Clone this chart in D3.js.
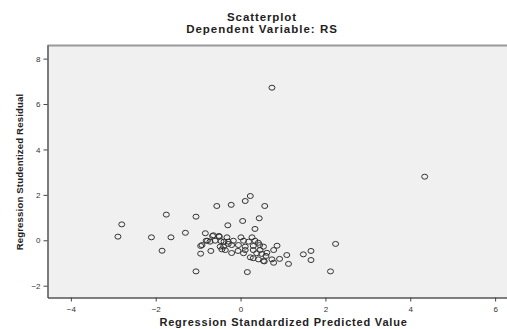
<!DOCTYPE html>
<html lang="en">
    <head>
        <meta charset="UTF-8" />
        <title>Scatterplot</title>
        <script src="https://d3js.org/d3.v7.min.js"></script>
        <style>
            body {
                margin: 0;
                background: #fff;
            }
            svg {
                display: block;
                font-family: "Liberation Sans", Arial, sans-serif;
            }
        </style>
    </head>
    <body>
        <div class="canvas"></div>
        <script>
            // predicted (standardized) vs residual (studentized)
            const predicted = [
                -2.89, -2.8, -2.1, -1.85, -1.75, -1.64, -1.3, -1.05, -1.05, -0.94,
                -0.94, -0.83, -0.78, -0.7, -0.66, -0.56, -0.51, -0.3, -0.22, -0.21,
                -0.06, 0.05, 0.11, 0.16, 0.23, 0.34, 0.44, 0.57, 0.74, 0.86,
                0.78, 1.09, 0.92, 0.78, 1.13, 1.48, 1.66, 1.66, 2.24, 2.12,
                4.34, 0.54, 0.6, -0.64, -0.5, -0.32, 0.01, 0.27, -0.81, -0.72,
                -0.6, -0.46, -0.39, -0.29, -0.17, 0.07, 0.19, 0.34, 0.42, -0.91,
                -0.48, -0.4, -0.29, -0.21, -0.05, 0.11, 0.3, 0.45, 0.54, -0.44,
                -0.36, 0.11, 0.3, 0.46, 0.07, 0.38, 0.5, 0.62, 0.23, 0.3,
                0.42, 0.56, 0.74,
            ];
            const residual = [
                0.16, 0.7, 0.13, -0.46, 1.13, 0.13, 0.33, 1.04, -1.37, -0.25,
                -0.59, 0.31, -0.02, -0.47, 0.19, 1.51, 0.19, 0.66, 1.56, -0.56,
                -0.47, 0.85, 1.73, -1.4, 1.95, 0.5, 0.97, 1.51, 6.72, -0.24,
                -0.43, -0.65, -0.82, -0.99, -1.04, -0.62, -0.47, -0.87, -0.16, -1.37,
                2.8, -0.91, -0.69, 0.22, 0.16, 0.13, 0.13, 0.13, -0.02, -0.06,
                -0.02, -0.04, -0.06, -0.06, -0.02, -0.02, -0.06, -0.02, -0.11, -0.21,
                -0.28, -0.28, -0.16, -0.21, -0.21, -0.28, -0.25, -0.21, -0.28, -0.4,
                -0.43, -0.43, -0.43, -0.43, -0.57, -0.57, -0.6, -0.55, -0.75, -0.79,
                -0.84, -0.93, -0.84,
            ];
            const xTicks = [-4, -2, 0, 2, 4, 6];
            const yTicks = [-2, 0, 2, 4, 6, 8];

            const data = predicted.map((p, i) => ({ x: p, y: residual[i] }));

            const width = 507;
            const height = 329;
            let [mt, mb, mr, ml] = [45, 31.5, 0, 47.5];

            const svg = d3
                .select(".canvas")
                .append("svg")
                .attr("width", width)
                .attr("height", height);

            const graphWidth = width - ml - mr;
            const graphHeight = height - mt - mb;

            const graph = svg
                .append("g")
                .attr("transform", `translate(${ml}, ${mt})`);

            const x = d3.scaleLinear().domain([-4.55, 6.28]).range([0, graphWidth]);
            const y = d3.scaleLinear().domain([-2.52, 8.6]).range([graphHeight, 0]);

            graph
                .append("rect")
                .attr("width", graphWidth)
                .attr("height", graphHeight)
                .attr("fill", "#f0f0f0");

            // top frame line
            graph
                .append("line")
                .attr("x1", 0)
                .attr("x2", graphWidth)
                .attr("y1", 0.5)
                .attr("y2", 0.5)
                .attr("stroke", "#999")
                .attr("stroke-width", 2);

            const xAxisG = graph
                .append("g")
                .attr("transform", `translate(0, ${graphHeight})`)
                .call(d3.axisBottom(x).tickValues(xTicks).tickSize(4).tickSizeOuter(0));

            const yAxisG = graph
                .append("g")
                .call(d3.axisLeft(y).tickValues(yTicks).tickSize(4).tickSizeOuter(0));

            [xAxisG, yAxisG].forEach((g) => {
                g.select(".domain").attr("stroke", "#555").attr("stroke-width", 1.5);
                g.selectAll(".tick line").attr("stroke", "#444");
                g.selectAll("text")
                    .attr("fill", "#333")
                    .style("font-size", "8px")
                    .style("font-family", "Liberation Sans, Arial, sans-serif");
            });
            xAxisG.selectAll("text").attr("dy", "0.9em");

            graph
                .selectAll("ellipse")
                .data(data)
                .enter()
                .append("ellipse")
                .attr("cx", (d) => x(d.x))
                .attr("cy", (d) => y(d.y))
                .attr("rx", 3)
                .attr("ry", 2.5)
                .attr("fill", "none")
                .attr("stroke", "#333")
                .attr("stroke-width", 1);

            const label = (txt, size, spacing) =>
                svg
                    .append("text")
                    .attr("text-anchor", "middle")
                    .attr("font-weight", "bold")
                    .attr("fill", "#222")
                    .style("font-size", size)
                    .style("letter-spacing", spacing)
                    .text(txt);

            label("Scatterplot", "11.5px", "0.9px").attr("x", 262).attr("y", 21);
            label("Dependent Variable: RS", "11.5px", "1px").attr("x", 262).attr("y", 32.5);
            label("Regression Standardized Predicted Value", "11px", "0.8px")
                .attr("x", 283.5)
                .attr("y", 326);
            label("Regression Studentized Residual", "9.5px", "0.2px").attr(
                "transform",
                "translate(23, 172) rotate(-90)"
            );
        </script>
    </body>
</html>
